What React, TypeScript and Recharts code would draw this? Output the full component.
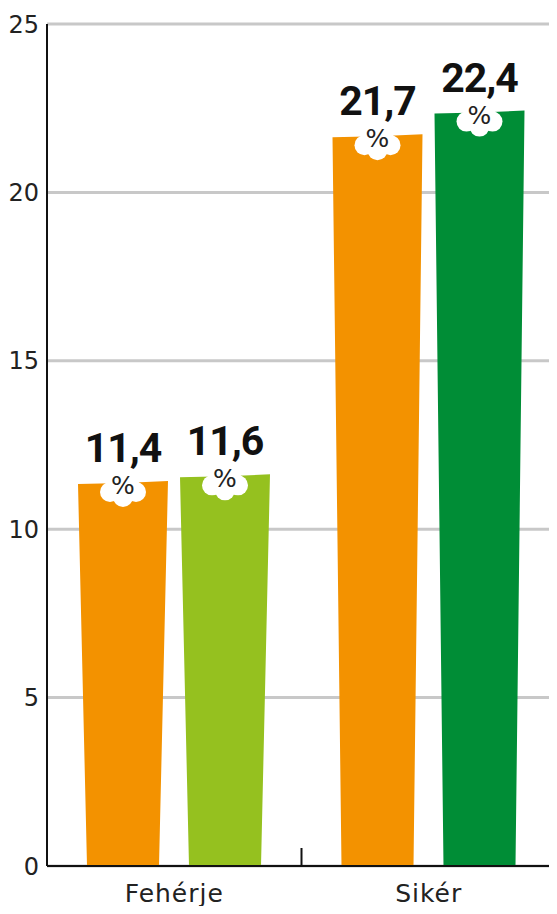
import { BarChart, Bar, XAxis, YAxis, CartesianGrid, Cell, LabelList } from 'recharts'

const categories = ['Fehérje', 'Sikér']
const seriesA = [11.4, 21.7]
const seriesB = [11.6, 22.4]
const colorsA = ['#F39200', '#F39200']
const colorsB = ['#95C11F', '#008D36']
const yTicks = [0, 5, 10, 15, 20, 25]

const data = categories.map((name, i) => ({ name, a: seriesA[i], b: seriesB[i] }))

const thinFont = "'DejaVu Sans', sans-serif"

// brush-like bar: slightly slanted top, narrowing to the bottom
const BrushBar = (props: any) => {
    const { x, y, width, height, fill } = props
    const inset = 9
    const d = `M${x},${y + 2} L${x + width * 0.5},${y + 1} L${x + width},${y - 1} L${x + width - inset},${y + height} L${x + inset},${y + height} Z`
    return <path d={d} fill={fill} />
}

const ValueLabel = (props: any) => {
    const { x, y, width, value } = props
    const cx = x + width / 2
    return (
        <g>
            <text
                x={cx}
                y={y - 20}
                textAnchor="middle"
                fontFamily="Roboto, sans-serif"
                fontWeight={700}
                fontSize={41}
                letterSpacing={-1}
                fill="#111"
            >
                {String(value).replace('.', ',')}
            </text>
            <g fill="#fff">
                <circle cx={cx} cy={y + 2} r={16} />
                <circle cx={cx - 13} cy={y + 10} r={10} />
                <circle cx={cx + 13} cy={y + 10} r={10} />
                <circle cx={cx} cy={y + 15} r={10} />
            </g>
            <text
                x={cx}
                y={y + 12}
                textAnchor="middle"
                fontFamily={thinFont}
                fontSize={25}
                fill="#222"
            >
                %
            </text>
        </g>
    )
}

const XTick = (props: any) => {
    const { x, y, payload, index } = props
    const off = payload.offset ?? 127
    return (
        <g>
            {index === 0 && (
                <line x1={x + off} x2={x + off} y1={y} y2={y - 18} stroke="#111" strokeWidth={2} />
            )}
            <text
                x={x}
                y={y + 36}
                textAnchor="middle"
                fontFamily={thinFont}
                fontSize={25}
                letterSpacing={1}
                fill="#222"
            >
                {payload.value}
            </text>
        </g>
    )
}

export default function App() {
    return (
        <div style={{ margin: -8, background: '#fff' }}>
            <BarChart
                width={557}
                height={914}
                data={data}
                margin={{ top: 24, right: 1, bottom: 0, left: 0 }}
                barGap={12}
                barSize={90}
            >
                <CartesianGrid vertical={false} stroke="#c8c8c8" strokeWidth={3} />
                <XAxis
                    dataKey="name"
                    height={48}
                    interval={0}
                    tickLine={false}
                    tickSize={0}
                    tickMargin={0}
                    axisLine={{ stroke: '#111', strokeWidth: 2 }}
                    tick={<XTick />}
                />
                <YAxis
                    domain={[0, 25]}
                    ticks={yTicks}
                    width={47}
                    tickLine={false}
                    tickSize={0}
                    tickMargin={8}
                    axisLine={{ stroke: '#111', strokeWidth: 2 }}
                    tick={{ fontFamily: thinFont, fontSize: 24, fill: '#222' }}
                />
                <Bar dataKey="a" shape={<BrushBar />} isAnimationActive={false}>
                    {data.map((_, i) => (
                        <Cell key={i} fill={colorsA[i]} />
                    ))}
                    <LabelList dataKey="a" content={<ValueLabel />} />
                </Bar>
                <Bar dataKey="b" shape={<BrushBar />} isAnimationActive={false}>
                    {data.map((_, i) => (
                        <Cell key={i} fill={colorsB[i]} />
                    ))}
                    <LabelList dataKey="b" content={<ValueLabel />} />
                </Bar>
            </BarChart>
        </div>
    )
}
